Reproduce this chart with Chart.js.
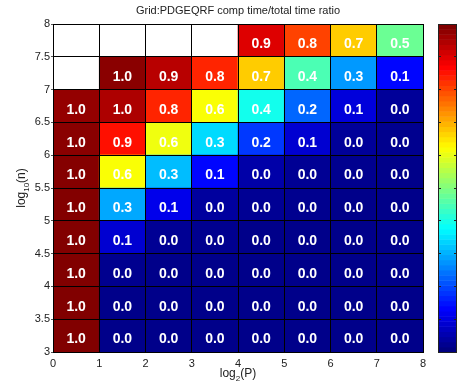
<!DOCTYPE html>
<html><head><meta charset="utf-8">
<script src="https://cdn.jsdelivr.net/npm/chart.js@4"></script>
<style>html,body{margin:0;padding:0;background:#fff;overflow:hidden}</style>
</head><body>
<canvas id="c" width="459" height="389"></canvas>
<script>
// log2(P) cell left edges (x) and log10(n) cell bottom edges (y)
const log2P = [0, 1, 2, 3, 4, 5, 6, 7];
const log10n = [3, 3.5, 4, 4.5, 5, 5.5, 6, 6.5, 7, 7.5];
// comp time / total time ratio, one array per log10(n) row (null = no data)
const row3_0 = [0.999, 0.010, 0.010, 0.010, 0.010, 0.010, 0.010, 0.010];
const row3_5 = [0.999, 0.010, 0.010, 0.010, 0.010, 0.010, 0.010, 0.010];
const row4_0 = [0.999, 0.015, 0.010, 0.010, 0.010, 0.010, 0.010, 0.010];
const row4_5 = [0.998, 0.080, 0.020, 0.015, 0.010, 0.010, 0.010, 0.010];
const row5_0 = [0.997, 0.290, 0.105, 0.030, 0.020, 0.015, 0.010, 0.010];
const row5_5 = [0.995, 0.620, 0.310, 0.130, 0.040, 0.020, 0.015, 0.010];
const row6_0 = [0.990, 0.860, 0.610, 0.340, 0.180, 0.080, 0.025, 0.015];
const row6_5 = [0.980, 0.955, 0.840, 0.620, 0.393, 0.225, 0.090, 0.025];
const row7_0 = [null, 0.990, 0.945, 0.840, 0.675, 0.449, 0.275, 0.130];
const row7_5 = [null, null, null, null, 0.907, 0.810, 0.675, 0.480];
const rows = [row3_0, row3_5, row4_0, row4_5, row5_0, row5_5, row6_0, row6_5, row7_0, row7_5];
const xTicks = [0, 1, 2, 3, 4, 5, 6, 7, 8];
const yTicks = [3, 3.5, 4, 4.5, 5, 5.5, 6, 6.5, 7, 7.5, 8];
const titleText = 'Grid:PDGEQRF comp time/total time ratio';

function jet(t) {
  const c = v => Math.max(0, Math.min(1, v));
  const r = c(1.5 - Math.abs(4 * t - 3)), g = c(1.5 - Math.abs(4 * t - 2)), b = c(1.5 - Math.abs(4 * t - 1));
  return 'rgb(' + Math.round(r * 255) + ',' + Math.round(g * 255) + ',' + Math.round(b * 255) + ')';
}

const FONT = '"Liberation Sans", Arial, Helvetica, sans-serif';

const datasets = rows.map((vals, r) => ({
  data: vals.map((v, i) => ({ x: log2P[i] + 0.5, y: [log10n[r], log10n[r] + 0.5] })),
  values: vals,
  backgroundColor: vals.map(v => v == null ? '#ffffff' : jet(v)),
  borderWidth: 0,
  grouped: false,
  barPercentage: 1,
  categoryPercentage: 1
}));

const heatPlugin = {
  id: 'heat',
  afterDatasetsDraw(chart) {
    const ctx = chart.ctx;
    const ca = chart.chartArea;
    ctx.save();
    // cell borders
    ctx.strokeStyle = '#000';
    ctx.lineWidth = 1;
    ctx.beginPath();
    chart.data.datasets.forEach((ds, di) => {
      const meta = chart.getDatasetMeta(di);
      meta.data.forEach(el => {
        const l = Math.floor(el.x - el.width / 2) + 0.5, r = Math.floor(el.x + el.width / 2) + 0.5;
        const t = Math.floor(Math.min(el.y, el.base)) + 0.5, b = Math.floor(Math.max(el.y, el.base)) + 0.5;
        ctx.moveTo(l, t); ctx.lineTo(r, t); ctx.lineTo(r, b); ctx.lineTo(l, b); ctx.closePath();
      });
    });
    ctx.stroke();
    // labels
    ctx.fillStyle = '#fff';
    ctx.font = 'bold 14px ' + FONT;
    ctx.textAlign = 'center';
    ctx.textBaseline = 'middle';
    chart.data.datasets.forEach((ds, di) => {
      const meta = chart.getDatasetMeta(di);
      meta.data.forEach((el, i) => {
        const v = ds.values[i];
        if (v == null) return;
        ctx.fillText(v.toFixed(1), el.x, (el.y + el.base) / 2 + 4);
      });
    });
    // axes box
    ctx.strokeStyle = '#000';
    ctx.strokeRect(Math.floor(ca.left) + 0.5, Math.floor(ca.top) + 0.5, Math.round(ca.right - ca.left), Math.round(ca.bottom - ca.top));
    // small tick marks
    ctx.strokeStyle = '#555';
    ctx.beginPath();
    const ys = chart.scales.y;
    yTicks.forEach(v => {
      const p = Math.floor(ys.getPixelForValue(v)) + 0.5;
      ctx.moveTo(ca.left - 2, p); ctx.lineTo(ca.left, p);
    });
    ctx.stroke();
    // title
    ctx.fillStyle = '#222';
    ctx.font = '11px ' + FONT;
    ctx.textBaseline = 'alphabetic';
    ctx.fillText(titleText, (ca.left + ca.right) / 2, 14);
    // axis labels with subscripts
    const drawSub = (parts, x, y) => {
      ctx.font = '12px ' + FONT; const w1 = ctx.measureText(parts[0]).width;
      const w3 = ctx.measureText(parts[2]).width;
      ctx.font = '8px ' + FONT; const w2 = ctx.measureText(parts[1]).width;
      let sx = x - (w1 + w2 + w3) / 2;
      ctx.textAlign = 'left';
      ctx.font = '12px ' + FONT; ctx.fillText(parts[0], sx, y); sx += w1;
      ctx.font = '8px ' + FONT; ctx.fillText(parts[1], sx, y + 4); sx += w2;
      ctx.font = '12px ' + FONT; ctx.fillText(parts[2], sx, y);
    };
    drawSub(['log', '2', '(P)'], (ca.left + ca.right) / 2, 377);
    ctx.save();
    ctx.translate(25, (ca.top + ca.bottom) / 2);
    ctx.rotate(-Math.PI / 2);
    drawSub(['log', '10', '(n)'], 0, 0);
    ctx.restore();
    // colorbar
    const cbL = 438, cbR = 457, cbT = ca.top, cbB = ca.bottom;
    const n = 64;
    for (let k = 0; k < n; k++) {
      const y0 = cbB - (k + 1) * (cbB - cbT) / n, y1 = cbB - k * (cbB - cbT) / n;
      ctx.fillStyle = jet(k / (n - 1));
      ctx.fillRect(cbL, y0, cbR - cbL, y1 - y0 + 0.5);
    }
    ctx.strokeStyle = '#222';
    ctx.strokeRect(cbL + 0.5, Math.floor(cbT) + 0.5, cbR - cbL - 1, Math.round(cbB - cbT));
    ctx.beginPath();
    for (let k = 1; k < 10; k++) {
      const p = Math.floor(cbB - k * (cbB - cbT) / 10) + 0.5;
      ctx.moveTo(cbL, p); ctx.lineTo(cbL + 3, p);
      ctx.moveTo(cbR - 3, p); ctx.lineTo(cbR, p);
    }
    ctx.stroke();
    ctx.restore();
  }
};

new Chart(document.getElementById('c'), {
  type: 'bar',
  data: { datasets },
  options: {
    responsive: false,
    animation: false,
    devicePixelRatio: 1,
    layout: { padding: { top: 24, right: 36, left: 0, bottom: 0 } },
    plugins: { legend: { display: false }, tooltip: { enabled: false }, title: { display: false } },
    scales: {
      x: {
        type: 'linear', min: 0, max: 8, offset: false,
        afterBuildTicks(s) { s.ticks = xTicks.map(v => ({ value: v })); },
        ticks: { font: { family: FONT, size: 11 }, color: '#222', padding: 5, maxRotation: 0, autoSkip: false, callback: v => String(v) },
        grid: { display: false, drawTicks: false },
        border: { display: false },
        afterFit(s) { s.height = 37; }
      },
      y: {
        type: 'linear', min: 3, max: 8,
        afterBuildTicks(s) { s.ticks = yTicks.map(v => ({ value: v })); },
        ticks: { font: { family: FONT, size: 11 }, color: '#222', padding: 3, autoSkip: false, callback: v => String(v) },
        grid: { display: false, drawTicks: false },
        border: { display: false },
        afterFit(s) { s.height = undefined; s.width = 53; }
      }
    }
  },
  plugins: [heatPlugin]
});
</script>
</body></html>
